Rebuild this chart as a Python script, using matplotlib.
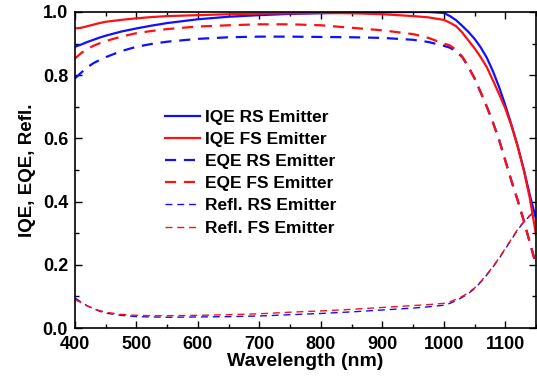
import numpy as np
import matplotlib
matplotlib.use("Agg")
import matplotlib.pyplot as plt
from matplotlib.ticker import MultipleLocator, FormatStrFormatter

# wavelength grid (nm)
wl = [400, 410, 420, 430, 440, 450, 475, 500, 525, 550, 600, 650, 700, 750, 800, 850, 900,
      950, 975, 1000, 1010, 1020, 1030, 1040, 1050, 1060, 1070, 1080, 1090, 1100, 1110,
      1120, 1130, 1140, 1150]

iqe_rs = [0.890, 0.897, 0.905, 0.912, 0.919, 0.925, 0.938, 0.948, 0.957, 0.965, 0.977, 0.985,
          0.990, 0.994, 0.996, 0.998, 0.999, 1.000, 1.000, 0.997, 0.987, 0.974, 0.956, 0.937,
          0.915, 0.888, 0.855, 0.812, 0.762, 0.705, 0.643, 0.577, 0.502, 0.420, 0.345]
iqe_fs = [0.948, 0.950, 0.955, 0.960, 0.965, 0.969, 0.975, 0.980, 0.984, 0.987, 0.990, 0.993,
          0.995, 0.996, 0.997, 0.996, 0.993, 0.987, 0.983, 0.975, 0.966, 0.955, 0.935, 0.910,
          0.885, 0.857, 0.825, 0.783, 0.740, 0.695, 0.640, 0.575, 0.500, 0.410, 0.295]
eqe_rs = [0.790, 0.808, 0.825, 0.838, 0.848, 0.857, 0.876, 0.890, 0.899, 0.906, 0.915, 0.920,
          0.922, 0.922, 0.921, 0.920, 0.918, 0.912, 0.905, 0.893, 0.887, 0.875, 0.857, 0.826,
          0.790, 0.745, 0.700, 0.650, 0.595, 0.530, 0.465, 0.405, 0.340, 0.270, 0.200]
eqe_fs = [0.853, 0.870, 0.883, 0.893, 0.901, 0.908, 0.922, 0.933, 0.940, 0.946, 0.954, 0.958,
          0.961, 0.961, 0.958, 0.950, 0.942, 0.930, 0.918, 0.900, 0.894, 0.880, 0.859, 0.827,
          0.790, 0.746, 0.700, 0.650, 0.595, 0.530, 0.466, 0.405, 0.340, 0.270, 0.200]
refl_rs = [0.095, 0.082, 0.070, 0.061, 0.053, 0.047, 0.040, 0.036, 0.035, 0.034, 0.035, 0.036,
           0.038, 0.042, 0.046, 0.051, 0.057, 0.063, 0.067, 0.072, 0.078, 0.087, 0.097, 0.109,
           0.125, 0.145, 0.168, 0.193, 0.220, 0.250, 0.280, 0.310, 0.335, 0.355, 0.370]
refl_fs = [0.090, 0.080, 0.070, 0.062, 0.055, 0.050, 0.043, 0.040, 0.039, 0.039, 0.040, 0.042,
           0.045, 0.050, 0.054, 0.059, 0.065, 0.071, 0.074, 0.078, 0.083, 0.091, 0.100, 0.112,
           0.127, 0.147, 0.170, 0.195, 0.222, 0.252, 0.282, 0.312, 0.337, 0.357, 0.372]

plt.rcParams['font.family'] = ['Liberation Sans', 'DejaVu Sans']
plt.rcParams['font.weight'] = 'bold'

fig = plt.figure(figsize=(5.37, 3.83), dpi=100)
ax = fig.add_axes([0.1397, 0.1436, 0.8585, 0.8251])

blue, red = '#1010ff', '#ff1010'
ax.plot(wl, iqe_rs, color=blue, lw=1.6, label='IQE RS Emitter')
ax.plot(wl, iqe_fs, color=red, lw=1.6, label='IQE FS Emitter')
ax.plot(wl, eqe_rs, color=blue, lw=1.6, dashes=(5, 3.5), label='EQE RS Emitter')
ax.plot(wl, eqe_fs, color=red, lw=1.6, dashes=(5, 3.5), label='EQE FS Emitter')
ax.plot(wl, refl_rs, color=blue, lw=1.0, dashes=(5, 3.5), label='Refl. RS Emitter')
ax.plot(wl, refl_fs, color=red, lw=1.0, dashes=(5, 3.5), label='Refl. FS Emitter')

ax.set_xlim(400, 1150)
ax.set_ylim(0, 1.0)
ax.xaxis.set_major_locator(MultipleLocator(100))
ax.xaxis.set_minor_locator(MultipleLocator(50))
ax.yaxis.set_major_locator(MultipleLocator(0.2))
ax.yaxis.set_minor_locator(MultipleLocator(0.1))
ax.yaxis.set_major_formatter(FormatStrFormatter('%.1f'))
ax.tick_params(which='both', direction='in', top=True, right=True, width=1)
ax.tick_params(which='major', length=5, labelsize=13)
ax.tick_params(axis='x', which='major', pad=6)
ax.tick_params(axis='y', which='major', pad=5)
ax.tick_params(which='minor', length=3)
for lab in ax.get_xticklabels() + ax.get_yticklabels():
    lab.set_fontweight('bold')
for s in ax.spines.values():
    s.set_linewidth(1.2)

ax.set_xlabel('Wavelength (nm)', fontsize=14, fontweight='bold', labelpad=0)
ax.set_ylabel('IQE, EQE, Refl.', fontsize=13.5, fontweight='bold', labelpad=5)

leg = ax.legend(loc='upper left', bbox_to_anchor=(0.195, 0.69), frameon=False,
                fontsize=12.5, handlelength=2.0, handletextpad=0.3,
                labelspacing=0.4, borderpad=0, borderaxespad=0)
for t in leg.get_texts():
    t.set_fontweight('bold')

fig.savefig('out.png', dpi=100)
